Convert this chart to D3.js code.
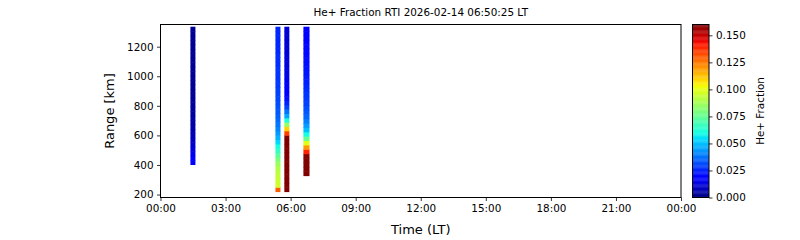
<!DOCTYPE html>
<html><head><meta charset="utf-8">
<script src="https://cdn.jsdelivr.net/npm/d3@7"></script>
<style>body{margin:0;background:#fff}text{font-family:"DejaVu Sans",sans-serif;fill:#000}</style>
</head><body><svg id="c" width="800" height="240"></svg>
<script>
// ---- data ----
const titleText = "He+ Fraction RTI 2026-02-14 06:50:25 LT";
const xTickHours = [0, 3, 6, 9, 12, 15, 18, 21, 24];
const xTickLabels = ["00:00","03:00","06:00","09:00","12:00","15:00","18:00","21:00","00:00"];
const yTicks = [200, 400, 600, 800, 1000, 1200];
const cbTicks = [0, 0.025, 0.05, 0.075, 0.1, 0.125, 0.15];
// profile time spans (hours LT) and range spans (km)
const profStart = [1.38, 5.30, 5.71, 6.59];
const profEnd   = [1.61, 5.53, 5.94, 6.87];
const profBottom = [403, 220, 220, 328];
const profTop    = [1335, 1335, 1335, 1335];
// He+ fraction per range cell, bottom to top
const prof1 = [0.020,0.018,0.015,0.013,0.011,0.009,0.008,0.007,0.006,0.005,0.005,0.004,0.004,0.004,0.004,0.003,0.003,0.003,0.003,0.003,0.003,0.003,0.003,0.003,0.003,0.003,0.003,0.003,0.003,0.003,0.003];
const prof2 = [0.130,0.096,0.095,0.094,0.092,0.090,0.086,0.080,0.073,0.066,0.060,0.054,0.048,0.044,0.041,0.039,0.037,0.035,0.034,0.033,0.032,0.031,0.030,0.030,0.029,0.029,0.028,0.028,0.028,0.027,0.027,0.027,0.026,0.026,0.026,0.026,0.026,0.026];
const prof3 = [0.170,0.170,0.170,0.170,0.170,0.170,0.170,0.170,0.170,0.170,0.170,0.170,0.170,0.135,0.110,0.085,0.062,0.046,0.038,0.030,0.025,0.022,0.020,0.018,0.017,0.016,0.015,0.014,0.014,0.013,0.013,0.013,0.012,0.012,0.012,0.012,0.012,0.012];
const prof4 = [0.170,0.170,0.170,0.170,0.170,0.140,0.120,0.100,0.076,0.060,0.050,0.045,0.040,0.036,0.034,0.032,0.030,0.029,0.028,0.027,0.026,0.025,0.024,0.023,0.023,0.022,0.022,0.021,0.021,0.021,0.020,0.020,0.020,0.020];
const profiles = [prof1, prof2, prof3, prof4];
const cMin = 0, cMax = 0.16;

// ---- jet colormap (matplotlib segment data) ----
const jetR = [[0,0],[0.35,0],[0.66,1],[0.89,1],[1,0.5]];
const jetG = [[0,0],[0.125,0],[0.375,1],[0.64,1],[0.91,0],[1,0]];
const jetB = [[0,0.5],[0.11,1],[0.34,1],[0.65,0],[1,0]];
function seg(s, t){ for(let i=1;i<s.length;i++){ if(t<=s[i][0]){ const a=s[i-1],b=s[i]; return a[1]+(b[1]-a[1])*(t-a[0])/(b[0]-a[0]); } } return s[s.length-1][1]; }
function jet(t){ t=Math.max(0,Math.min(1,t)); return d3.rgb(255*seg(jetR,t),255*seg(jetG,t),255*seg(jetB,t)).toString(); }
const cnorm = d3.scaleLinear().domain([cMin,cMax]).range([0,1]).clamp(true);
const color = v => jet(cnorm(v));

// ---- layout ----
const svg = d3.select("#c");
const L=160.5, R=681, T=24.5, B=197.5;
const x = d3.scaleLinear().domain([0,24]).range([L,R]);
const y = d3.scaleLinear().domain([180,1350]).range([B,T]);

const g = svg.append("g");
profiles.forEach((vals,i)=>{
  const n = vals.length, h = (profTop[i]-profBottom[i])/n;
  vals.forEach((v,k)=>{
    const r0 = profBottom[i]+k*h, r1 = r0+h;
    g.append("rect").attr("x",x(profStart[i])).attr("width",x(profEnd[i])-x(profStart[i]))
      .attr("y",y(r1)).attr("height",y(r0)-y(r1)+0.5).attr("fill",color(v));
  });
});

// axes
const xAxis = d3.axisBottom(x).tickValues(xTickHours).tickFormat((d,i)=>xTickLabels[i]).tickSize(3.5).tickPadding(3.5);
const yAxis = d3.axisLeft(y).tickValues(yTicks).tickFormat(d3.format("d")).tickSize(3.5).tickPadding(3.5);
const gx = svg.append("g").attr("transform",`translate(0,${B})`).call(xAxis);
const gy = svg.append("g").attr("transform",`translate(${L},0)`).call(yAxis);
[gx,gy].forEach(a=>{a.select(".domain").remove(); a.selectAll("text").attr("font-size","10.4px").attr("font-family","DejaVu Sans"); a.selectAll("line").attr("stroke","#000").attr("stroke-width",0.8);});
svg.append("rect").attr("x",L).attr("y",T).attr("width",R-L).attr("height",B-T).attr("fill","none").attr("stroke","#000").attr("stroke-width",1);

svg.append("text").attr("x",(L+R)/2).attr("y",16).attr("text-anchor","middle").attr("font-size","10.4px").text(titleText);
svg.append("text").attr("x",(L+R)/2).attr("y",234).attr("text-anchor","middle").attr("font-size","13px").text("Time (LT)");
svg.append("text").attr("transform",`translate(114,${(T+B)/2}) rotate(-90)`).attr("text-anchor","middle").attr("font-size","13px").text("Range [km]");

// colorbar
const cbL=692.5, cbR=709, cb = d3.scaleLinear().domain([cMin,cMax]).range([B,T]);
const steps=200;
for(let i=0;i<steps;i++){
  const v0=cMin+(cMax-cMin)*i/steps, v1=cMin+(cMax-cMin)*(i+1)/steps;
  svg.append("rect").attr("x",cbL).attr("width",cbR-cbL).attr("y",cb(v1)).attr("height",cb(v0)-cb(v1)+0.3).attr("fill",color((v0+v1)/2));
}
svg.append("rect").attr("x",cbL).attr("y",T).attr("width",cbR-cbL).attr("height",B-T).attr("fill","none").attr("stroke","#000").attr("stroke-width",1);
const cbAxis = d3.axisRight(cb).tickValues(cbTicks).tickFormat(d3.format(".3f")).tickSize(3.5).tickPadding(3.5);
const gc = svg.append("g").attr("transform",`translate(${cbR},0)`).call(cbAxis);
gc.select(".domain").remove(); gc.selectAll("text").attr("font-size","10.4px").attr("font-family","DejaVu Sans"); gc.selectAll("line").attr("stroke","#000").attr("stroke-width",0.8);
svg.append("text").attr("transform",`translate(764,${(T+B)/2}) rotate(-90)`).attr("text-anchor","middle").attr("font-size","10.4px").text("He+ Fraction");
</script></body></html>
